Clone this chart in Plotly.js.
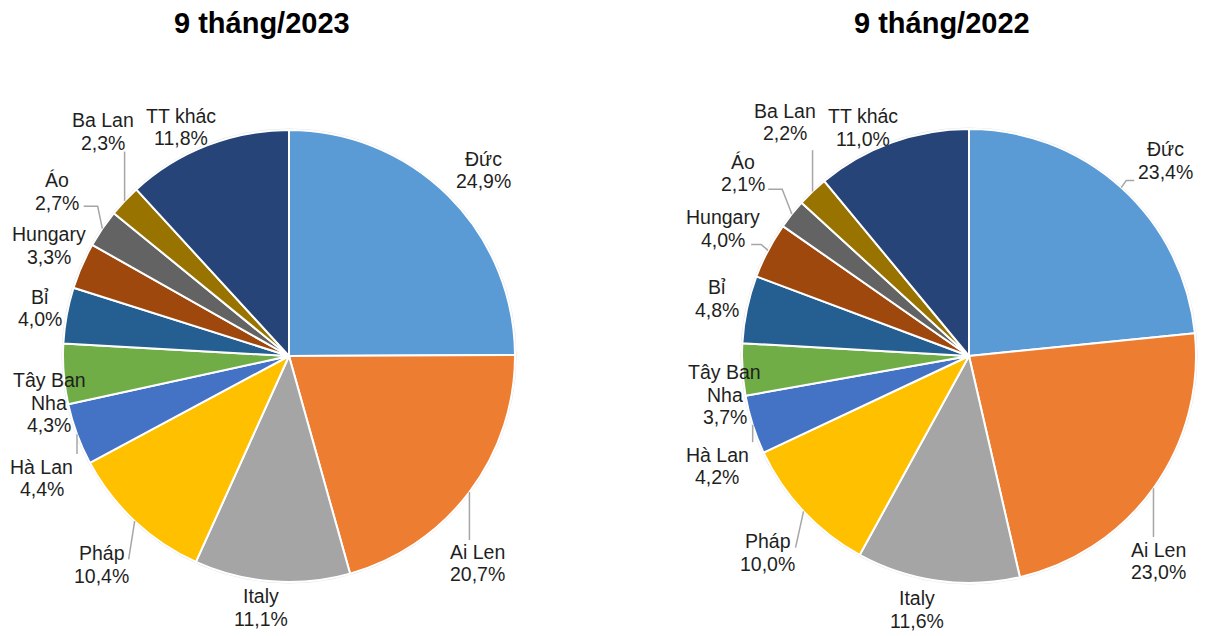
<!DOCTYPE html>
<html>
<head>
<meta charset="utf-8">
<script src="https://cdn.plot.ly/plotly-3.0.1.min.js"></script>
<style>html,body{margin:0;padding:0;background:#fff;}#chart{width:1205px;height:636px;}</style>
</head>
<body>
<div id="chart"></div>
<script>
// ---- data ----
const categories = ['Đức','Ai Len','Italy','Pháp','Hà Lan','Tây Ban Nha','Bỉ','Hungary','Áo','Ba Lan','TT khác'];
const share2023 = [24.9,20.7,11.1,10.4,4.4,4.3,4.0,3.3,2.7,2.3,11.8];
const share2022 = [23.4,23.0,11.6,10.0,4.2,3.7,4.8,4.0,2.1,2.2,11.0];
const titles = ['9 tháng/2023','9 tháng/2022'];

// ---- style ----
const colors = ['#5B9BD5','#ED7D31','#A5A5A5','#FFC000','#4472C4','#70AD47','#255E91','#9E480E','#636363','#997300','#264478'];
const W = 1205, H = 636;
const LINE = 22.5;
const pies = [
  {values: share2023, cx: 289, cy: 356, r: 226, titleX: 262,
   f:  [1.19,1.24,1.12,1.24,1.22,1.08,1.12,1.17,1.26,1.29,1.12],
   dA: [1.4,10.6,2,-1.1,-6,-6.4,0.6,1.2,1,7,-4],
   leaders: [null,{v:-23},null,{dx:27,dy:-5,e:0},{v:-24},null,null,null,{dx:27,dy:15,e:14},{v:20},null]},
  {values: share2022, cx: 969, cy: 356, r: 227, titleX: 942,
   f:  [1.22,1.23,1.14,1.24,1.21,1.09,1.14,1.22,1.28,1.31,1.11],
   dA: [3,11.6,3.7,-1.1,-6,-5.6,1,-0.3,0.3,5.4,-5.1],
   leaders: [{dx:-31,dy:20,e:-8},{v:-24},null,{dx:28,dy:-5,e:0},{v:-24},null,null,{dx:28,dy:16,e:10},{dx:25,dy:16,e:14},{v:28},null]}
];

const px = x => x / W;
const py = y => 1 - y / H;
const fmt = v => v.toFixed(1).replace('.', ',') + '%';
const wrap = s => s === 'Tây Ban Nha' ? ['Tây Ban', 'Nha'] : [s];

const traces = [], annotations = [], shapes = [];
pies.forEach((p, k) => {
  traces.push({
    type: 'pie', labels: categories, values: p.values, sort: false,
    direction: 'clockwise', rotation: 0, textinfo: 'none', hoverinfo: 'label+value',
    marker: {colors: colors, line: {color: '#FFFFFF', width: 2}},
    domain: {x: [px(p.cx - p.r), px(p.cx + p.r)], y: [py(p.cy + p.r), py(p.cy - p.r)]},
    showlegend: false
  });
  shapes.push({type: 'circle', xref: 'paper', yref: 'paper',
    x0: px(p.cx - p.r - 1), x1: px(p.cx + p.r + 1), y0: py(p.cy + p.r + 1), y1: py(p.cy - p.r - 1),
    line: {color: '#E3E3E3', width: 1}, layer: 'below'});
  const total = p.values.reduce((a, b) => a + b, 0);
  let cum = 0;
  p.values.forEach((v, i) => {
    const mid = (cum + v / 2) / total * 360;
    cum += v;
    const a = (mid + p.dA[i]) * Math.PI / 180;
    const cx = p.cx + p.r * p.f[i] * Math.sin(a);
    const cy = p.cy - p.r * p.f[i] * Math.cos(a);
    const lines = wrap(categories[i]).concat([fmt(v)]);
    lines.forEach((t, j) => {
      annotations.push({xref: 'paper', yref: 'paper', x: px(cx), y: py(cy + (j - (lines.length - 1) / 2) * LINE),
        xanchor: 'center', yanchor: 'middle', showarrow: false, text: t,
        font: {family: 'Liberation Sans, Arial, sans-serif', size: 19.5, color: '#1F1F1F'}});
    });
    const L = p.leaders[i];
    if (L) {
      const m = mid * Math.PI / 180;
      const ex = p.cx + p.r * Math.sin(m), ey = p.cy - p.r * Math.cos(m);
      let path;
      if (L.v !== undefined) {
        path = `M${px(ex)},${py(ey)} L${px(ex)},${py(cy + L.v)}`;
      } else {
        const qx = cx + L.dx, qy = cy + L.dy;
        path = `M${px(qx)},${py(qy)} L${px(qx + L.e)},${py(qy)} L${px(ex)},${py(ey)}`;
      }
      shapes.push({type: 'path', xref: 'paper', yref: 'paper', path: path,
        line: {color: '#A6A6A6', width: 1.5}});
    }
  });
  annotations.push({xref: 'paper', yref: 'paper', x: px(p.titleX), y: py(23),
    xanchor: 'center', yanchor: 'middle', showarrow: false, text: '<b>' + titles[k] + '</b>',
    font: {family: 'Liberation Sans, Arial, sans-serif', size: 29, color: '#000000'}});
});

Plotly.newPlot('chart', traces, {
  width: W, height: H, margin: {l: 0, r: 0, t: 0, b: 0},
  paper_bgcolor: '#FFFFFF', plot_bgcolor: '#FFFFFF',
  annotations: annotations, shapes: shapes, showlegend: false
}, {displayModeBar: false, staticPlot: true});
</script>
</body>
</html>
